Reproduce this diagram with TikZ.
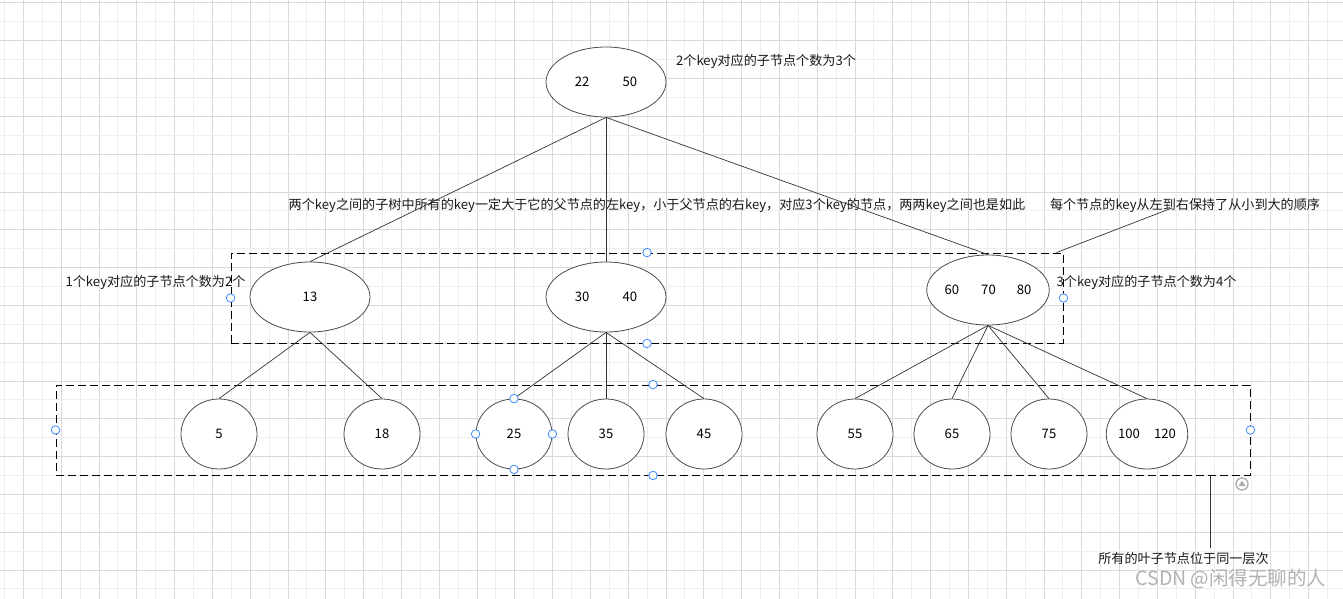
\documentclass[tikz,border=0pt]{standalone}
\usepackage{fontspec}
\setmainfont{Noto Sans CJK SC}
\usepackage{xcolor}
\usepackage{tikz}
\usetikzlibrary{shapes.geometric, positioning, calc}
\definecolor{gridlight}{HTML}{EEEEEE}
\definecolor{griddark}{HTML}{D9D9D9}
\definecolor{handle}{HTML}{3D8BFF}
\definecolor{edge}{HTML}{333333}

\begin{document}
\begin{tikzpicture}[x=1pt, y=-1pt, font=\fontsize{13.1}{15.5}\selectfont,
  keynode/.style={ellipse, draw=black!70, fill=white, line width=0.8pt, minimum width=120pt, minimum height=70pt, inner sep=0pt},
  leaf/.style={keynode, minimum width=76pt},
  rowbox/.style={draw=black, line width=0.9pt, dash pattern=on 8pt off 4pt, inner sep=0pt},
  grip/.style={circle, draw=handle, fill=white, line width=0.8pt, minimum size=8.5pt, inner sep=0pt},
  note/.style={inner sep=0pt, text=black!90},
  link/.style={draw=edge, line width=0.7pt}]
\fill[white] (0,0) rectangle (1343,599);
\useasboundingbox (0,0) rectangle (1343,599);
\foreach \k in {0,...,35} {
  \draw[gridlight, line width=0.8pt] ({4.4+37.8*\k},0) -- ++(0,599);
  \draw[griddark, line width=0.8pt] ({23.3+37.8*\k},0) -- ++(0,599);
}
\foreach \k in {0,...,15} {
  \draw[griddark, line width=0.8pt] (0,{2.9+37.8*\k}) -- ++(1343,0);
  \draw[gridlight, line width=0.8pt] (0,{21.8+37.8*\k}) -- ++(1343,0);
}

\node[rowbox, minimum width=832pt, minimum height=90pt] (midrow) at (647,298) {};
\node[rowbox, minimum width=1194pt, minimum height=90pt] (leafrow) at (653,430) {};

\node[keynode] (root) at (606,82) {22\hspace{33pt}50};
\node[keynode] (k13) at (310,297) {13};
\node[keynode] (k3040) at (606,297) {30\hspace{33pt}40};
\node[keynode] (k607080) at (988,290) {60\hspace{22pt}70\hspace{21pt}80};

\node[leaf] (l5) at (219,434) {5};
\node[leaf] (l18) at (382,434) {18};
\node[leaf] (l25) at (514,434) {25};
\node[leaf] (l35) at (606,434) {35};
\node[leaf] (l45) at (704,434) {45};
\node[leaf] (l55) at (855,434) {55};
\node[leaf] (l65) at (952,434) {65};
\node[leaf] (l75) at (1049,434) {75};
\node[leaf] (l100) at (1147,434) {100\hspace{14pt}120};

\draw[link] (root.south) -- (k13.north);
\draw[link] (root.south) -- (k3040.north);
\draw[link] (root.south) -- (k607080.north);
\draw[link] (k13.south) -- (l5.north);
\draw[link] (k13.south) -- (l18.north);
\draw[link] (k3040.south) -- (l25.north);
\draw[link] (k3040.south) -- (l35.north);
\draw[link] (k3040.south) -- (l45.north);
\draw[link] (k607080.south) -- (l55.north);
\draw[link] (k607080.south) -- (l65.north);
\draw[link] (k607080.south) -- (l75.north);
\draw[link] (k607080.south) -- (l100.north);

\node[note] (rootnote) at (766,61) {2个key对应的子节点个数为3个};
\node[note] (rulenote) at (657,205) {两个key之间的子树中所有的key一定大于它的父节点的左key，小于父节点的右key，对应3个key的节点，两两key之间也是如此};
\node[note] (ordernote) at (1185,205) {每个节点的key从左到右保持了从小到大的顺序};
\node[note] (twonote) at (155.5,282) {1个key对应的子节点个数为2个};
\node[note] (fournote) at (1146.5,282) {3个key对应的子节点个数为4个};
\node[note] (levelnote) at (1183.5,559) {所有的叶子节点位于同一层次};

\coordinate (ordertail) at (1172,208);
\coordinate (leveltail) at (1210,548);
\draw[link] ([xshift=-7pt]midrow.north east) -- (ordertail);
\draw[link] (leveltail |- leafrow.south) -- (leveltail);

\foreach \n in {midrow, leafrow, l25} {
  \node[grip] at (\n.north) {};
  \node[grip] at (\n.south) {};
  \node[grip] at (\n.west) {};
  \node[grip] at (\n.east) {};
}

\node[circle, draw=gray!65, line width=1.3pt, minimum size=12pt, inner sep=0pt] (fold) at (1242,484) {};
\fill[gray!65] ($(fold)+(-3.5,2)$) -- ($(fold)+(3.5,2)$) -- ($(fold)+(0,-3.5)$) -- cycle;

\node[inner sep=0pt, text=gray!60, font=\fontsize{19.5}{23}\selectfont] (mark) at (1231,579) {CSDN @闲得无聊的人};
\end{tikzpicture}
\end{document}
